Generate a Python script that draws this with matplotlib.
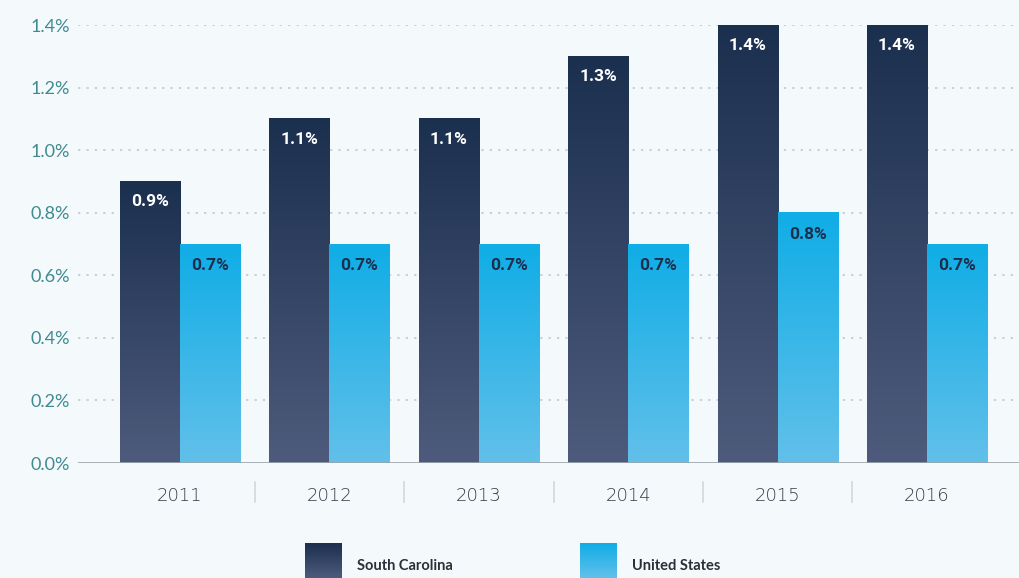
import numpy as np
import matplotlib
matplotlib.use("Agg")
import matplotlib.pyplot as plt
from matplotlib.colors import LinearSegmentedColormap

# datos
years = ["2011", "2012", "2013", "2014", "2015", "2016"]
south_carolina = [0.9, 1.1, 1.1, 1.3, 1.4, 1.4]
united_states = [0.7, 0.7, 0.7, 0.7, 0.8, 0.7]
yticks = [0.0, 0.2, 0.4, 0.6, 0.8, 1.0, 1.2, 1.4]
series_names = ["South Carolina", "United States"]

BG = "#f4f9fc"
SC_TOP, SC_BOT = "#1b2f4e", "#4e5b7c"
US_TOP, US_BOT = "#10ade6", "#62c0ea"
cmap_sc = LinearSegmentedColormap.from_list("sc", [SC_BOT, SC_TOP])
cmap_us = LinearSegmentedColormap.from_list("us", [US_BOT, US_TOP])
grad = np.linspace(0, 1, 256).reshape(-1, 1)

W, H = 1019, 578
fig = plt.figure(figsize=(W / 100, H / 100), dpi=100, facecolor=BG)
ax = fig.add_axes([78 / W, 1 - 463 / H, (W - 78) / W, (463 - 25) / H])
ax.set_facecolor(BG)

bw = 0.402
x = np.arange(len(years))
narrow = ["Roboto", "DejaVu Sans"]


def gradient_bar(x0, x1, h, cmap):
    ax.imshow(grad, cmap=cmap, origin="lower", aspect="auto",
              extent=(x0, x1, 0, h), zorder=3, interpolation="bicubic")


for i in range(len(years)):
    gradient_bar(x[i] - bw, x[i], south_carolina[i], cmap_sc)
    gradient_bar(x[i], x[i] + bw, united_states[i], cmap_us)
    ax.text(x[i] - bw / 2, south_carolina[i] - 0.065, f"{south_carolina[i]:.1f}%",
            ha="center", va="center", color="white", fontsize=12.5,
            fontweight="bold", family=narrow, zorder=4)
    ax.text(x[i] + bw / 2, united_states[i] - 0.07, f"{united_states[i]:.1f}%",
            ha="center", va="center", color="#1b2f4e", fontsize=12.5,
            fontweight="bold", family=narrow, zorder=4)

ax.set_xlim(-0.683, 5.616)
ax.set_ylim(0, 1.4)

for yv in yticks[1:]:
    ax.axhline(yv, color="#bcc6cc", lw=1.1, ls=(0, (1.5, 4)), zorder=1)
ax.axhline(0, color="#9aa4aa", lw=1.2, zorder=5, xmin=-0.005)

for s in ax.spines.values():
    s.set_visible(False)

ax.set_yticks(yticks)
ax.set_yticklabels([f"{v:.1f}%" for v in yticks], color="#3f8a90",
                   fontsize=13, family="Lato")
ax.tick_params(axis="y", length=0, pad=6)

ax.set_xticks(x)
ax.set_xticklabels(years, color="#333b44", fontsize=13, family="DejaVu Sans",
                   fontweight="light")
ax.tick_params(axis="x", length=0, pad=17)

# separadores entre años
for xm in (x[:-1] + 0.5):
    ax.plot([xm, xm], [-0.06, -0.125], color="#d2d8dc", lw=1.2,
            clip_on=False, zorder=1)

# leyenda manual
leg = [(305, SC_TOP, SC_BOT, 357), (580, US_TOP, US_BOT, 632)]
for (lx, top, bot, tx), name in zip(leg, series_names):
    lax = fig.add_axes([lx / W, 0, 37 / W, (H - 543) / H])
    lax.imshow(grad, cmap=LinearSegmentedColormap.from_list("l", [bot, top]),
               origin="lower", aspect="auto")
    lax.axis("off")
    fig.text(tx / W, 1 - 566 / H, name, ha="left", va="center",
             fontsize=10.5, fontweight="bold", color="#2a2f38", family="Lato")

fig.savefig("out.png", dpi=100, facecolor=BG)
